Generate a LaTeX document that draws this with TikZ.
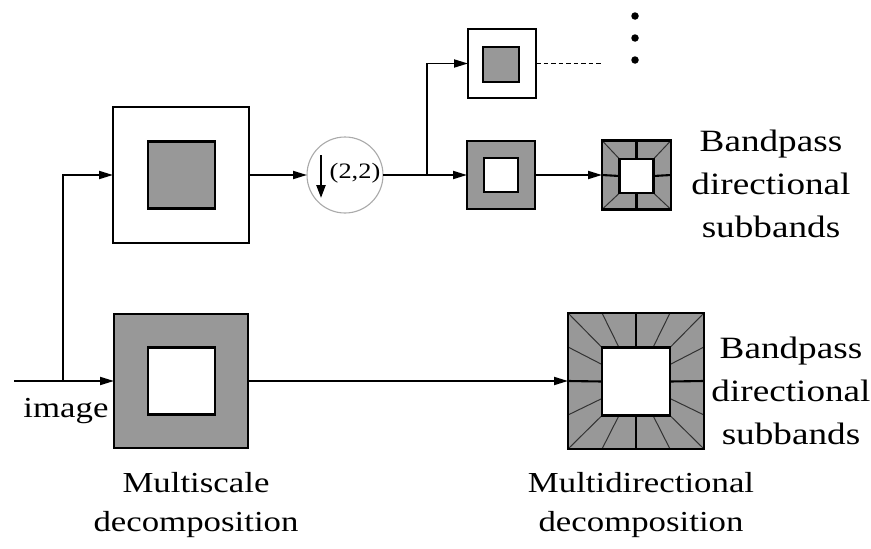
\documentclass[tikz,border=0pt]{standalone}
\usepackage{fontspec}
\setmainfont{Liberation Serif}[FakeStretch=1.2]
\usetikzlibrary{arrows.meta,calc}
\definecolor{fillg}{RGB}{152,152,152}
\definecolor{circg}{RGB}{170,170,170}
\definecolor{wedge}{RGB}{50,50,50}
\begin{document}
\begin{tikzpicture}[x=1pt,y=-1pt,
  sq/.style={draw=black, line width=2.1pt, inner sep=0pt, outer sep=0pt, rectangle},
  arr/.style={-{Triangle[length=14pt,width=8pt]}, line width=1.9pt},
  plain/.style={line width=1.9pt},
  thinw/.style={draw=wedge, line width=1pt},
  thickw/.style={draw=black, line width=2.1pt},
  dot/.style={circle, fill=black, inner sep=0pt, minimum size=7.5pt},
  lbl/.style={font=\fontsize{31}{43}\selectfont, align=center, inner sep=0pt},
  lblb/.style={font=\fontsize{29}{39}\selectfont, align=center, inner sep=0pt}]
\useasboundingbox (0,0) rectangle (871,549);

% Multiscale boxes
\node[sq, fill=white, minimum size=136pt] (A) at (181,175) {};
\node[sq, fill=fillg, minimum size=67pt] (Ai) at (181.5,175) {};
\node[sq, fill=fillg, minimum size=134pt] (B) at (181,381) {};
\node[sq, fill=white, minimum size=67pt] (Bi) at (181.5,381) {};

% downsampler
\node[circle, draw=circg, line width=1.1pt, minimum size=76pt, inner sep=0pt, outer sep=0pt] (C) at (345,175) {};
\coordinate (dtop) at (321,155);
\coordinate (dbot) at (321,198);
\draw[-{Triangle[length=13pt,width=9pt]}, line width=2.3pt] (dtop) -- (dbot);
\node[font=\fontsize{22}{22}\selectfont, inner sep=0pt] (C22) at (355,173) {(2,2)};

% upper branch boxes
\node[sq, fill=white, minimum width=68pt, minimum height=69pt] (D) at (502,63.5) {};
\node[sq, fill=fillg, minimum width=36pt, minimum height=35pt] (Di) at (501,64.5) {};
\node[sq, fill=fillg, minimum size=68pt] (E) at (501,175) {};
\node[sq, fill=white, minimum size=34pt] (Ei) at (501,175) {};

% small directional filter bank
\node[sq, fill=fillg, minimum size=69pt] (F) at (636.5,175) {};
\node[inner sep=0pt, outer sep=0pt, minimum size=34pt] (Fi) at (636.5,176) {};
\foreach \a/\b in {north west/north east, north east/south east, south east/south west, south west/north west}{
  \draw[thinw] (F.\a) -- (Fi.\a);
  \draw[thickw] ($(F.\a)!0.5!(F.\b)$) -- ($(Fi.\a)!0.5!(Fi.\b)$);
}
\draw[sq, fill=white] (Fi.north west) rectangle (Fi.south east);
\draw[sq] (F.north west) rectangle (F.south east);

% large directional filter bank
\node[sq, fill=fillg, minimum size=136pt] (G) at (636,381) {};
\node[inner sep=0pt, outer sep=0pt, minimum size=68pt] (Gi) at (636,381.5) {};
\foreach \a/\b in {north west/north east, north east/south east, south east/south west, south west/north west}{
  \draw[thinw] (G.\a) -- (Gi.\a);
  \draw[thinw] ($(G.\a)!0.25!(G.\b)$) -- ($(Gi.\a)!0.25!(Gi.\b)$);
  \draw[thinw] ($(G.\a)!0.75!(G.\b)$) -- ($(Gi.\a)!0.75!(Gi.\b)$);
  \draw[thickw] ($(G.\a)!0.5!(G.\b)$) -- ($(Gi.\a)!0.5!(Gi.\b)$);
}
\draw[sq, fill=white] (Gi.north west) rectangle (Gi.south east);
\draw[sq] (G.north west) rectangle (G.south east);

% connectors
\coordinate (in) at (14,381);
\coordinate (jn) at (63,381);
\coordinate (br) at (427,175);
\draw[arr] (in) -- (B.west);
\draw[arr] (jn) |- (A.west);
\draw[arr] (A.east) -- (C.west);
\draw[plain] (C.east) -- (br);
\draw[arr] (br) |- (D.west);
\draw[arr] (br) -- (E.west);
\draw[arr] (E.east) -- (F.west);
\draw[arr] (B.east) -- (G.west);
\coordinate (dend) at (602,63.5);
\draw[line width=1.5pt, dash pattern=on 4.5pt off 3pt] (D.east) -- (dend);

% dots
\node[dot] (v1) at (635,16) {};
\node[dot] (v2) at (635,38) {};
\node[dot] (v3) at (635,60) {};

% labels
\node[lbl, font=\fontsize{29}{43}\selectfont, anchor=base] (limg) at (66,417) {image};
\node[lblb, anchor=north] (lms) at (196,472) {Multiscale\\decomposition};
\node[lblb, anchor=north] (lmd) at (641,472) {Multidirectional\\decomposition};
\node[lbl, anchor=north] (lbt) at (771,130) {Bandpass\\directional\\subbands};
\node[lbl, anchor=north] (lbb) at (791,337) {Bandpass\\directional\\subbands};
\end{tikzpicture}
\end{document}
